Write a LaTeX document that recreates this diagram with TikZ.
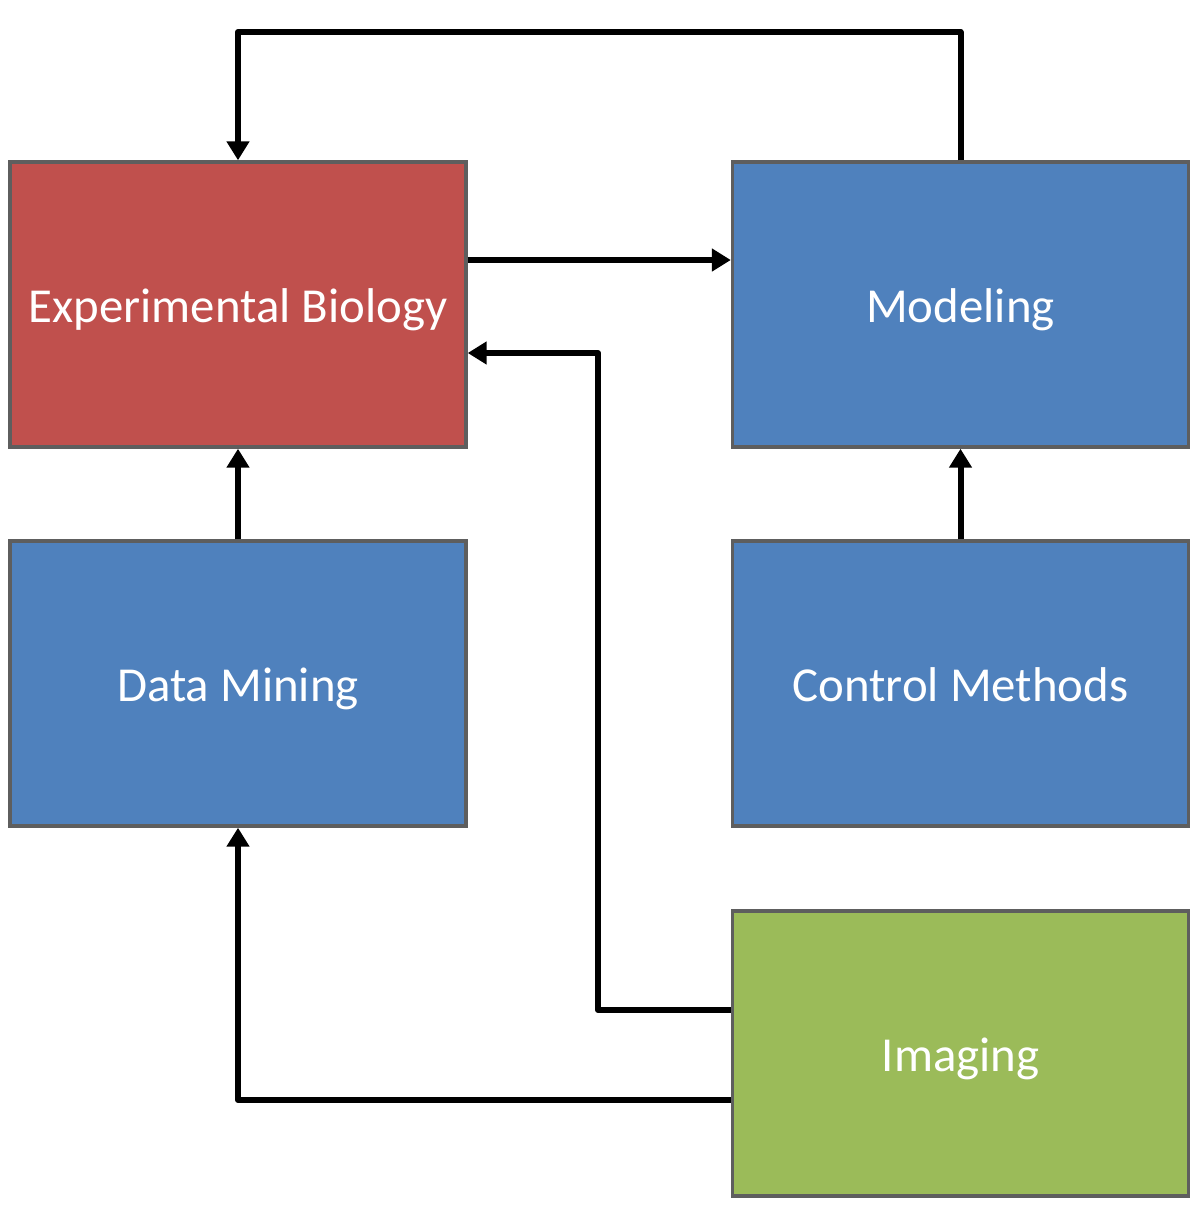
\documentclass[tikz,border=0pt]{standalone}
\usepackage{fontspec}
\setmainfont{Carlito}
\usetikzlibrary{positioning,calc,arrows.meta}
\definecolor{colorEXP}{HTML}{C0504D}
\definecolor{colorBLUE}{HTML}{4F81BD}
\definecolor{colorIMG}{HTML}{9BBB59}
\definecolor{colorEDGE}{HTML}{5E5E5E}
\tikzset{
   every path/.style={>={Triangle[length=3.8mm,width=4.4mm]}},
   area/.style={rectangle,draw=colorEDGE,line width=2pt,minimum width=9.12cm,minimum height=5.7cm,
      text=white,font=\fontsize{27.8}{33}\selectfont,inner sep=0pt,text height=20.5pt,text depth=0pt},
   exp/.style={area,fill=colorEXP},
   cmp/.style={area,fill=colorBLUE},
   img/.style={area,fill=colorIMG},
   flow/.style={->,line width=3.4pt,line join=round},
}

\begin{document}
\begin{tikzpicture}[x=0.02cm,y=-0.02cm]
        \useasboundingbox (0,0) rectangle (1200,1226);

        \node[exp] (eb)  at (238,304.5)   {Experimental Biology};
        \node[cmp] (mod) at (960.5,304.5) {Modeling};
        \node[cmp] (dm)  at (238,683.5)   {Data Mining};
        \node[cmp] (cm)  at (960.5,683.5) {Control Methods};
        \node[img] (im)  at (960.5,1053.5) {Imaging};

        \coordinate (top)  at (600,32);
        \coordinate (bend) at (598,600);

        \draw[flow] (mod.north) |- (top) -| (eb.north);
        \draw[flow] ([yshift=0.89cm]eb.east) -- ([yshift=0.89cm]mod.west);
        \draw[flow] ([yshift=0.87cm]im.west) -| (bend) |- ([yshift=-0.97cm]eb.east);
        \draw[flow] ([yshift=-0.93cm]im.west) -| (dm.south);
        \draw[flow] (dm.north) -- (eb.south);
        \draw[flow] (cm.north) -- (mod.south);
    \end{tikzpicture}
\end{document}
